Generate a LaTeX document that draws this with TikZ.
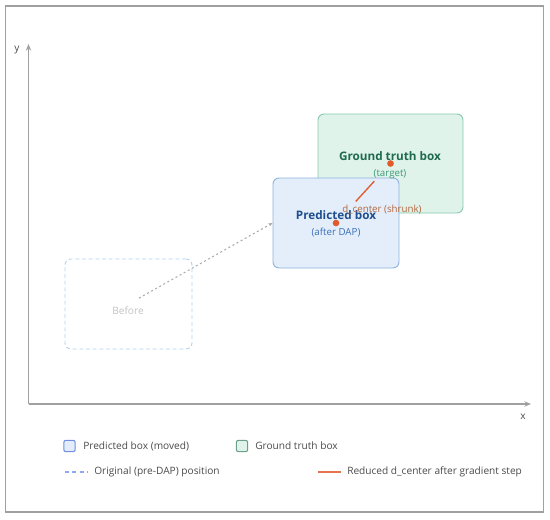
\documentclass[tikz,border=0pt]{standalone}
\usepackage{fontspec}
\setmainfont{Open Sans}
\usetikzlibrary{arrows.meta}
\definecolor{framec}{HTML}{A0A0A0}
\definecolor{axisc}{HTML}{A0A0A0}
\definecolor{gtfill}{HTML}{E0F3EB}
\definecolor{gtdraw}{HTML}{86C9AC}
\definecolor{gttext}{HTML}{1E6A4E}
\definecolor{gtsub}{HTML}{3E9A78}
\definecolor{pbfill}{HTML}{E3EEFA}
\definecolor{pbdraw}{HTML}{8DB2DC}
\definecolor{pbtext}{HTML}{1F4E8E}
\definecolor{pbsub}{HTML}{3B6FB6}
\definecolor{befdraw}{HTML}{B5D2F0}
\definecolor{beftext}{HTML}{C2C2C2}
\definecolor{connc}{HTML}{ABABAB}
\definecolor{dotc}{HTML}{E05A2B}
\definecolor{dctext}{HTML}{B4663E}
\definecolor{legtext}{HTML}{4A4A4A}
\tikzset{
  boxstyle/.style={rounded corners=4.5pt, line width=0.7pt, inner sep=0pt},
  gtbox/.style={boxstyle, draw=gtdraw, fill=gtfill, minimum width=108.75pt, minimum height=74.25pt},
  pbbox/.style={boxstyle, draw=pbdraw, fill=pbfill, minimum width=94.5pt, minimum height=67.5pt},
  befbox/.style={boxstyle, draw=befdraw, dashed, dash pattern=on 3pt off 2pt, minimum width=95.25pt, minimum height=67.5pt},
  axisline/.style={draw=axisc, line width=0.8pt, -{Stealth[length=5pt,width=4pt]}},
  centerdot/.style={circle, fill=dotc, inner sep=0pt, minimum size=5pt},
  legtxt/.style={text=legtext, font=\fontsize{7.6}{9}\selectfont, anchor=west, inner sep=0pt},
  legsq/.style={rounded corners=1.5pt, line width=0.8pt, minimum size=8.5pt, inner sep=0pt}
}
\begin{document}
\begin{tikzpicture}[x=0.75pt, y=-0.75pt]
\useasboundingbox (0,0) rectangle (550,519);
% outer frame
\draw[framec, line width=1.1pt] (5.5,6) rectangle (543.5,512);
% axes
\coordinate (orig) at (28.5,404);
\coordinate (ytip) at (28.5,44);
\coordinate (xtip) at (531,404);
\draw[axisline] (orig) -- (ytip);
\draw[axisline] (orig) -- (xtip);
\node[text=legtext, font=\fontsize{7.6}{9}\selectfont] (ylab) at (17,50) {y};
\node[text=legtext, font=\fontsize{7.6}{9}\selectfont] (xlab) at (523,417) {x};
% boxes
\node[befbox] (bef) at (128.5,304) {};
\node[text=beftext, font=\fontsize{7.6}{9}\selectfont] (beflab) at (128,311) {Before};
\node[gtbox] (gt) at (390.5,163.5) {};
\node[pbbox] (pb) at (336,223) {};
% connector from before to predicted box
\draw[color=connc, line width=0.8pt, dash pattern=on 1.5pt off 2pt, shorten <=9pt,
  -{Stealth[length=3pt,width=2.5pt]}] (bef.center) -- (pb.west);
% texts
\node[text=gttext, font=\bfseries\fontsize{8.8}{10}\selectfont] (gtlab) at (390,156) {Ground truth box};
\node[text=gtsub, font=\fontsize{7.3}{9}\selectfont] (gtsublab) at (390,174) {(target)};
\node[text=pbtext, font=\bfseries\fontsize{8.8}{10}\selectfont] (pblab) at (336,215) {Predicted box};
\node[text=pbsub, font=\fontsize{7.3}{9}\selectfont] (pbsublab) at (336,233) {(after DAP)};
\node[text=dctext, font=\fontsize{7.3}{9}\selectfont] (dclab) at (382,210) {d\_center (shrunk)};
% centers
\node[centerdot] (gtdot) at (gt.center) {};
\node[centerdot] (pbdot) at (pb.center) {};
\draw[dotc, line width=1pt, shorten <=22pt, shorten >=18pt] (pbdot.center) -- (gtdot.center);
% legend
\node[legsq, draw=pbdraw!80!blue, fill=pbfill] (lsq1) at (69.5,446) {};
\node[legtxt] (lt1) at (83,446) {Predicted box (moved)};
\node[legsq, draw=gtdraw!80!black, fill=gtfill] (lsq2) at (242,446) {};
\node[legtxt] (lt2) at (255,446) {Ground truth box};
\coordinate (ld1a) at (65,472);
\coordinate (ld1b) at (88,472);
\draw[befdraw!80!blue, line width=0.8pt, dash pattern=on 3pt off 2.5pt] (ld1a) -- (ld1b);
\node[legtxt] (lt3) at (94,472) {Original (pre-DAP) position};
\coordinate (ld2a) at (318,472);
\coordinate (ld2b) at (341,472);
\draw[dotc!85!white, line width=1pt] (ld2a) -- (ld2b);
\node[legtxt] (lt4) at (347,472) {Reduced d\_center after gradient step};
\end{tikzpicture}
\end{document}
